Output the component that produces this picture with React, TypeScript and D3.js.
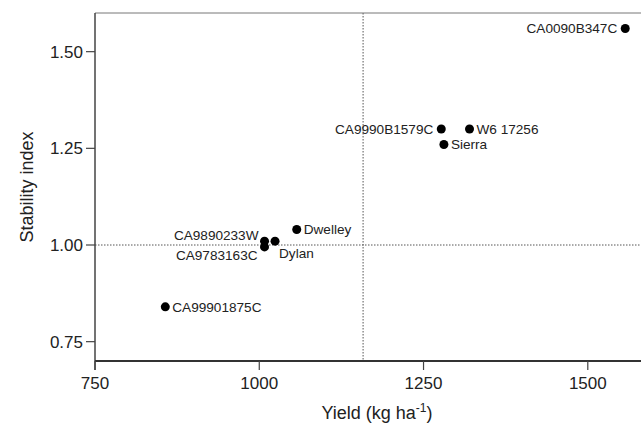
import React from "react";
import * as d3 from "d3";

// genotypes, yield (kg/ha) and stability index
const names = [
  "CA0090B347C",
  "CA9990B1579C",
  "W6 17256",
  "Sierra",
  "Dwelley",
  "Dylan",
  "CA9890233W",
  "CA9783163C",
  "CA99901875C"
];
const yieldVals = [1557, 1277, 1320, 1281, 1057, 1024, 1008, 1008, 857];
const stability = [1.56, 1.3, 1.3, 1.26, 1.04, 1.01, 1.01, 0.995, 0.84];
// where each label sits relative to its point
const labelSide = ["left", "left", "right", "right", "right", "below", "leftUp", "leftDown", "right"];

const xTicks = [750, 1000, 1250, 1500];
const yTicks = [0.75, 1.0, 1.25, 1.5];
const meanYield = 1158;
const meanStability = 1.0;

const width = 641;
const height = 427;

const x = d3.scaleLinear().domain([750, 1600]).range([95, 653.5]);
const y = d3.scaleLinear().domain([0.7, 1.6]).range([361, 13]);

function labelPos(side: string, px: number, py: number) {
  if (side === "left") return { x: px - 8, y: py, anchor: "end" };
  if (side === "right") return { x: px + 7, y: py, anchor: "start" };
  if (side === "below") return { x: px + 4, y: py + 12, anchor: "start" };
  if (side === "leftUp") return { x: px - 6, y: py - 6, anchor: "end" };
  return { x: px - 7, y: py + 8, anchor: "end" };
}

export default function App() {
  const font = "Arial, 'Liberation Sans', sans-serif";
  const [x0] = x.range();
  const [yb, yt] = y.range();
  return (
    <svg
      width={width}
      height={height}
      style={{ position: "absolute", left: 0, top: 0, background: "#fff" }}
      fontFamily={font}
    >
      {/* reference lines */}
      <line
        x1={x(meanYield)}
        x2={x(meanYield)}
        y1={yt}
        y2={yb}
        stroke="#555"
        strokeWidth={1}
        strokeDasharray="1.5,1.5"
      />
      <line
        x1={x0}
        x2={width}
        y1={y(meanStability)}
        y2={y(meanStability)}
        stroke="#555"
        strokeWidth={1}
        strokeDasharray="1.5,1.5"
      />

      {/* frame */}
      <line x1={x0} x2={width} y1={yt} y2={yt} stroke="#777" strokeWidth={1} />
      <line x1={x0} x2={x0} y1={yt} y2={yb + 9} stroke="#444" strokeWidth={1.5} />
      <line x1={x0} x2={width} y1={yb} y2={yb} stroke="#333" strokeWidth={2} />

      {/* y axis */}
      {yTicks.map(t => (
        <g key={"y" + t}>
          <line x1={x0 - 9} x2={x0} y1={y(t)} y2={y(t)} stroke="#444" strokeWidth={1.2} />
          <text
            x={x0 - 12}
            y={y(t)}
            dy="0.35em"
            textAnchor="end"
            fontSize={17}
            fill="#222"
          >
            {t.toFixed(2)}
          </text>
        </g>
      ))}
      <text
        transform={`translate(33,${(yt + yb) / 2}) rotate(-90)`}
        textAnchor="middle"
        fontSize={18}
        fill="#222"
      >
        Stability index
      </text>

      {/* x axis */}
      {xTicks.map(t => (
        <g key={"x" + t}>
          <line x1={x(t)} x2={x(t)} y1={yb} y2={yb + 9} stroke="#444" strokeWidth={1.2} />
          <text x={x(t)} y={389} textAnchor="middle" fontSize={17} fill="#222">
            {t}
          </text>
        </g>
      ))}
      <text x={377} y={419} textAnchor="middle" fontSize={18} fill="#222">
        Yield (kg ha
        <tspan dy={-7} fontSize={12}>-1</tspan>
        <tspan dy={7}>)</tspan>
      </text>

      {/* points */}
      {names.map((n, i) => {
        const px = x(yieldVals[i]);
        const py = y(stability[i]);
        const lp = labelPos(labelSide[i], px, py);
        return (
          <g key={n}>
            <circle cx={px} cy={py} r={4.5} fill="#000" />
            <text
              x={lp.x}
              y={lp.y}
              dy="0.35em"
              textAnchor={lp.anchor}
              fontSize={13.6}
              fill="#222"
            >
              {n}
            </text>
          </g>
        );
      })}
    </svg>
  );
}
